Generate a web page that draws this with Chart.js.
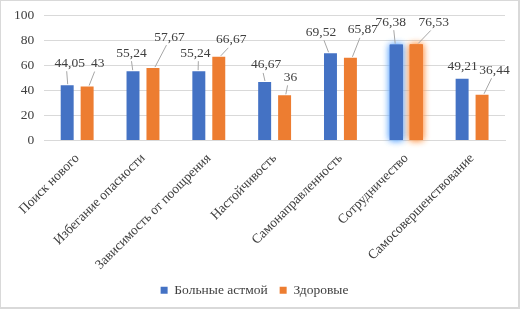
<!DOCTYPE html>
<html>
<head>
<meta charset="utf-8">
<script src="https://cdn.jsdelivr.net/npm/chart.js@4.4.1/dist/chart.umd.min.js"></script>
<style>
html,body{margin:0;padding:0;background:#fff;}
#wrap{position:absolute;left:0;top:0;width:520px;height:309px;box-sizing:border-box;border:2px solid #d9d9d9;border-left-width:1px;border-top-width:1px;}
#wrap canvas{position:absolute;left:0;top:0;}
</style>
</head>
<body>
<div id="wrap"><canvas id="c" width="518" height="307"></canvas></div>
<script>
const categories = ["Поиск нового","Избегание опасности","Зависимость от поощрения","Настойчивость","Самонаправленность","Сотрудничество","Самосовершенствование"];
const seriesNames = ["Больные астмой","Здоровые"];
const asthma = [44.05, 55.24, 55.24, 46.67, 69.52, 76.38, 49.21];
const healthy = [43, 57.67, 66.67, 36, 65.87, 76.53, 36.44];
const labelTexts = [
  ["44,05","55,24","55,24","46,67","69,52","76,38","49,21"],
  ["43","57,67","66,67","36","65,87","76,53","36,44"]
];
const yTicks = [0,20,40,60,80,100];

// label offsets (style): [dx, dy] relative to bar top center
const labelOffsets = [
  [[2.5,-22],[-1.5,-18],[-3.5,-18],[1.5,-17],[-9.5,-21],[-5.5,-22.5],[0.5,-12.5]],
  [[10.5,-23],[16.5,-31],[12.5,-17],[6,-18],[12.5,-28],[17.5,-22],[12.5,-24.5]]
];
const glowIndex = 5;
const glowColors = ["rgba(110,175,255,1)","rgba(255,160,90,1)"];

const FONT = "'Liberation Serif','Times New Roman',serif";

const labelPlugin = {
  id: 'labels',
  beforeDatasetsDraw(chart){
    const ctx = chart.ctx;
    chart.data.datasets.forEach((ds, di) => {
      const bar = chart.getDatasetMeta(di).data[glowIndex];
      if (!bar) return;
      ctx.save();
      ctx.shadowColor = glowColors[di];
      ctx.shadowBlur = 7;
      ctx.fillStyle = ds.backgroundColor;
      for (let k = 0; k < 2; k++) ctx.fillRect(bar.x - bar.width/2, bar.y, bar.width, bar.base - bar.y);
      ctx.restore();
    });
  },
  afterDatasetsDraw(chart){
    const ctx = chart.ctx;
    ctx.save();
    ctx.font = "13.5px " + FONT;
    ctx.textAlign = 'center';
    ctx.textBaseline = 'middle';
    chart.data.datasets.forEach((ds, di) => {
      chart.getDatasetMeta(di).data.forEach((bar, i) => {
        const [dx, dy] = labelOffsets[di][i];
        const lx = bar.x + dx, ly = bar.y + dy;
        const dist = Math.hypot(dx, dy);
        if (dist > 14) {
          const tx = lx - (dx > 0 ? 3 : (dx < -3 ? -3 : 0));
          ctx.strokeStyle = '#a6a6a6';
          ctx.lineWidth = 1;
          ctx.beginPath();
          ctx.moveTo(bar.x + (dx>0?1:-1)*Math.min(Math.abs(dx)*0.2,2), bar.y - 1);
          ctx.lineTo(tx, ly + 8);
          ctx.stroke();
        }
        ctx.fillStyle = '#404040';
        ctx.fillText(labelTexts[di][i], lx, ly);
      });
    });
    ctx.restore();
  }
};

new Chart(document.getElementById('c'), {
  type: 'bar',
  data: {
    labels: categories,
    datasets: [
      {label: seriesNames[0], data: asthma, backgroundColor: '#4472c4', categoryPercentage: 0.606, barPercentage: 0.65},
      {label: seriesNames[1], data: healthy, backgroundColor: '#ed7d31', categoryPercentage: 0.606, barPercentage: 0.65}
    ]
  },
  options: {
    responsive: false,
    animation: false,
    devicePixelRatio: 1,
    layout: {padding: {left: 3, right: 14, top: 0, bottom: 1}},
    plugins: {
      legend: {
        position: 'bottom',
        labels: {
          font: {family: FONT, size: 13.5},
          color: '#404040',
          boxWidth: 7, boxHeight: 7,
          padding: 12
        }
      },
      tooltip: {enabled: false}
    },
    scales: {
      x: {
        grid: {display: false, drawTicks: false},
        border: {color: '#d9d9d9'},
        afterFit(scale){ scale.height = 131; },
        ticks: {
          font: {family: FONT, size: 13.5},
          color: '#404040',
          minRotation: 45, maxRotation: 45,
          padding: 10
        }
      },
      y: {
        min: 0, max: 100,
        afterBuildTicks(axis){ axis.ticks = yTicks.map(v => ({value: v})); },
        afterFit(scale){ scale.paddingTop = 14; },
        grid: {color: '#d9d9d9', drawTicks: false},
        border: {display: false},
        ticks: {
          font: {family: FONT, size: 13.5},
          color: '#404040',
          padding: 10
        }
      }
    }
  },
  plugins: [labelPlugin]
});
</script>
</body>
</html>
